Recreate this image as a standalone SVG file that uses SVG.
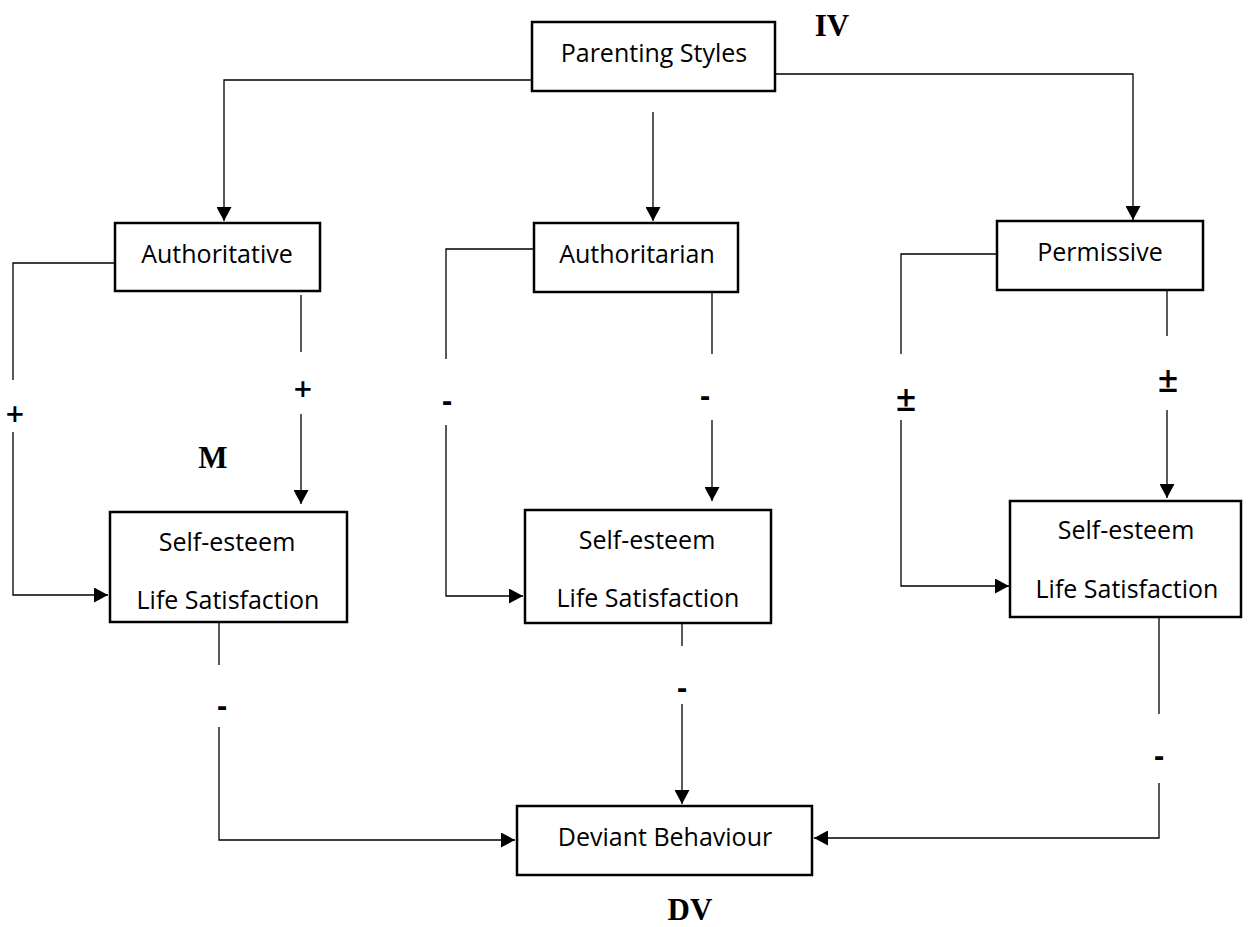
<svg xmlns="http://www.w3.org/2000/svg" width="1249" height="927" viewBox="0 0 1249 927">
<style>
.box{fill:#fff;stroke:#000;stroke-width:2.5}
.lbl{font-family:"Open Sans","Liberation Sans",sans-serif;font-size:25px;fill:#000;text-anchor:middle}
.sign{font-family:"Open Sans","Liberation Sans",sans-serif;font-weight:bold;font-size:30px;fill:#000;text-anchor:middle}
.plus{font-family:"Open Sans","Liberation Sans",sans-serif;font-weight:600;font-size:32px;fill:#000;text-anchor:middle}
.pm{font-family:"Open Sans","Liberation Sans",sans-serif;font-weight:600;font-size:36px;fill:#000;text-anchor:middle}
.big{font-family:"Liberation Serif","Times New Roman",serif;font-weight:bold;font-size:31px;fill:#000;text-anchor:middle}
.con{fill:none;stroke:#000;stroke-width:1.3}
.arr{marker-end:url(#ah)}
</style>
<defs>
<marker id="ah" markerUnits="userSpaceOnUse" markerWidth="14" markerHeight="15" refX="14" refY="7.5" orient="auto">
<path d="M0,0 L14,7.5 L0,15 z" fill="#000"/>
</marker>
</defs>
<g id="connectors">
<path class="con arr" d="M532,80 H224 V221"/>
<path class="con arr" d="M653,112 V221"/>
<path class="con arr" d="M775,74 H1133 V220"/>
<path class="con" d="M115,263 H13 V380"/>
<path class="con arr" d="M13,432 V595 H108"/>
<path class="con" d="M301,295 V352"/>
<path class="con arr" d="M301,414 V504"/>
<path class="con" d="M534,249 H446 V359"/>
<path class="con arr" d="M446,425 V596 H523"/>
<path class="con" d="M712,292 V354"/>
<path class="con arr" d="M712,420 V501"/>
<path class="con" d="M997,254 H901 V354"/>
<path class="con arr" d="M901,420 V586 H1009"/>
<path class="con" d="M1167,290 V336"/>
<path class="con arr" d="M1167,410 V498"/>
<path class="con" d="M219,622 V665"/>
<path class="con arr" d="M219,727 V840 H515"/>
<path class="con" d="M682,622 V646"/>
<path class="con arr" d="M682,704 V804"/>
<path class="con" d="M1159,618 V714"/>
<path class="con arr" d="M1159,783 V838 H814"/>
</g>
<g id="parenting-styles">
<rect class="box" x="532" y="22" width="243" height="69"/>
<text class="lbl" x="654" y="62">Parenting Styles</text>
</g>
<g id="authoritative">
<rect class="box" x="115" y="223" width="205" height="68"/>
<text class="lbl" x="217" y="263">Authoritative</text>
</g>
<g id="authoritarian">
<rect class="box" x="534" y="223" width="204" height="69"/>
<text class="lbl" x="637" y="263">Authoritarian</text>
</g>
<g id="permissive">
<rect class="box" x="997" y="221" width="206" height="69"/>
<text class="lbl" x="1100" y="261">Permissive</text>
</g>
<g id="mediator-1">
<rect class="box" x="110" y="512" width="237" height="110"/>
<text class="lbl" x="227" y="551">Self-esteem</text>
<text class="lbl" x="228" y="609">Life Satisfaction</text>
</g>
<g id="mediator-2">
<rect class="box" x="525" y="510" width="246" height="113"/>
<text class="lbl" x="647" y="549">Self-esteem</text>
<text class="lbl" x="648" y="607">Life Satisfaction</text>
</g>
<g id="mediator-3">
<rect class="box" x="1010" y="501" width="231" height="116"/>
<text class="lbl" x="1126" y="539">Self-esteem</text>
<text class="lbl" x="1127" y="598">Life Satisfaction</text>
</g>
<g id="deviant-behaviour">
<rect class="box" x="517" y="806" width="295" height="69"/>
<text class="lbl" x="665" y="846">Deviant Behaviour</text>
</g>
<g id="labels">
<text class="big" x="832" y="36">IV</text>
<text class="big" x="213" y="468">M</text>
<text class="big" x="690" y="920">DV</text>
<text class="plus" x="15" y="426">+</text>
<text class="plus" x="303" y="401">+</text>
<text class="sign" x="447" y="411">-</text>
<text class="sign" x="705" y="406">-</text>
<text class="pm" x="906" y="411">±</text>
<text class="pm" x="1168" y="392">±</text>
<text class="sign" x="222" y="716">-</text>
<text class="sign" x="682" y="698">-</text>
<text class="sign" x="1159" y="766">-</text>
</g>
</svg>
